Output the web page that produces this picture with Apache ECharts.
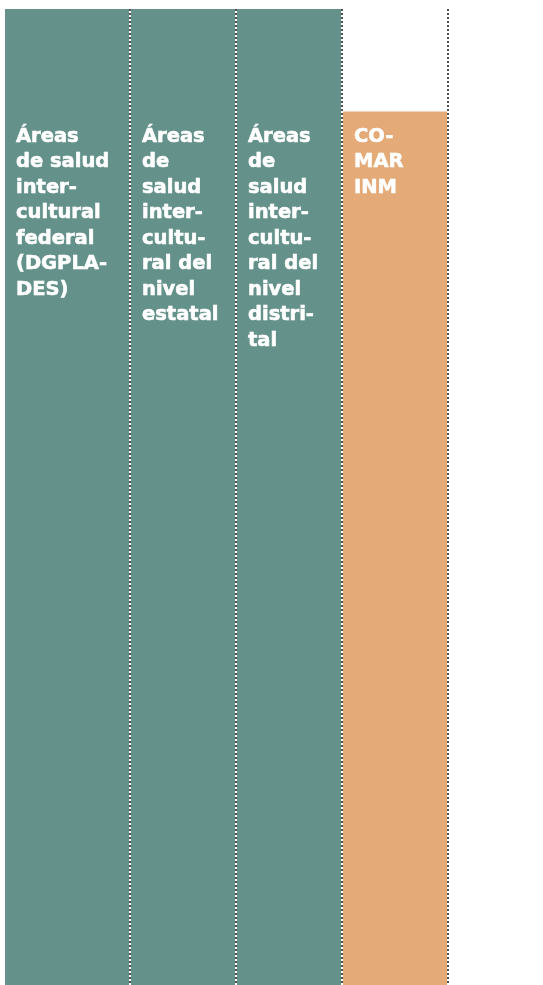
<!DOCTYPE html>
<html>
<head>
<meta charset="utf-8">
<script src="https://cdn.jsdelivr.net/npm/echarts@6/dist/echarts.min.js"></script>
<style>
  html, body { margin: 0; padding: 0; background: #ffffff; }
  #chart { width: 543px; height: 985px; }
</style>
</head>
<body>
<div id="chart"></div>
<script>
// ---- Data ----
const categories = [
  'Áreas\nde salud\ninter-\ncultural\nfederal\n(DGPLA-\nDES)',
  'Áreas\nde\nsalud\ninter-\ncultu-\nral del\nnivel\nestatal',
  'Áreas\nde\nsalud\ninter-\ncultu-\nral del\nnivel\ndistri-\ntal',
  'CO-\nMAR\nINM'
];
const values = [100, 100, 100, 89.5];

// ---- Style ----
const barColors = ['#64918a', '#64918a', '#64918a', '#e4aa78'];
const dotColor = '#4f4f4f';
const firstBarExtend = 19;   // first column reaches further left than its band
const textTop = 124;
const textPad = 11;

const chart = echarts.init(document.getElementById('chart'), null, { renderer: 'canvas' });

chart.setOption({
  backgroundColor: '#ffffff',
  animation: false,
  grid: { left: 24, right: 95, top: 9, bottom: 0, containLabel: false },
  xAxis: {
    type: 'category',
    data: categories,
    boundaryGap: true,
    show: false
  },
  yAxis: {
    type: 'value',
    min: 0,
    max: 100,
    show: false
  },
  series: [{
    type: 'custom',
    clip: false,
    encode: { x: 0, y: 1 },
    data: values.map((v, i) => [i, v]),
    renderItem: function (params, api) {
      const i = params.dataIndex;
      const cs = params.coordSys;
      const base = api.coord([i, 0]);
      const band = api.size([1, 0])[0];
      const top = api.coord([i, api.value(1)])[1];
      const bandLeft = base[0] - band / 2;
      const right = base[0] + band / 2;
      const left = i === 0 ? cs.x - firstBarExtend : bandLeft + 1;
      return {
        type: 'group',
        children: [
          {
            type: 'rect',
            shape: { x: left, y: top, width: right - 1 - left, height: base[1] - top },
            style: { fill: barColors[i] }
          },
          {
            type: 'line',
            shape: { x1: right, y1: cs.y, x2: right, y2: cs.y + cs.height },
            style: { stroke: dotColor, lineWidth: 2, lineDash: [2, 2] }
          },
          {
            type: 'text',
            style: {
              text: categories[i],
              x: left + textPad,
              y: textTop,
              fill: '#ffffff',
              stroke: '#ffffff',
              lineWidth: 0.6,
              fontFamily: '"DejaVu Sans", sans-serif',
              fontWeight: 'bold',
              fontSize: 19.5,
              lineHeight: 25.5,
              align: 'left',
              verticalAlign: 'top'
            }
          }
        ]
      };
    }
  }]
});
</script>
</body>
</html>
